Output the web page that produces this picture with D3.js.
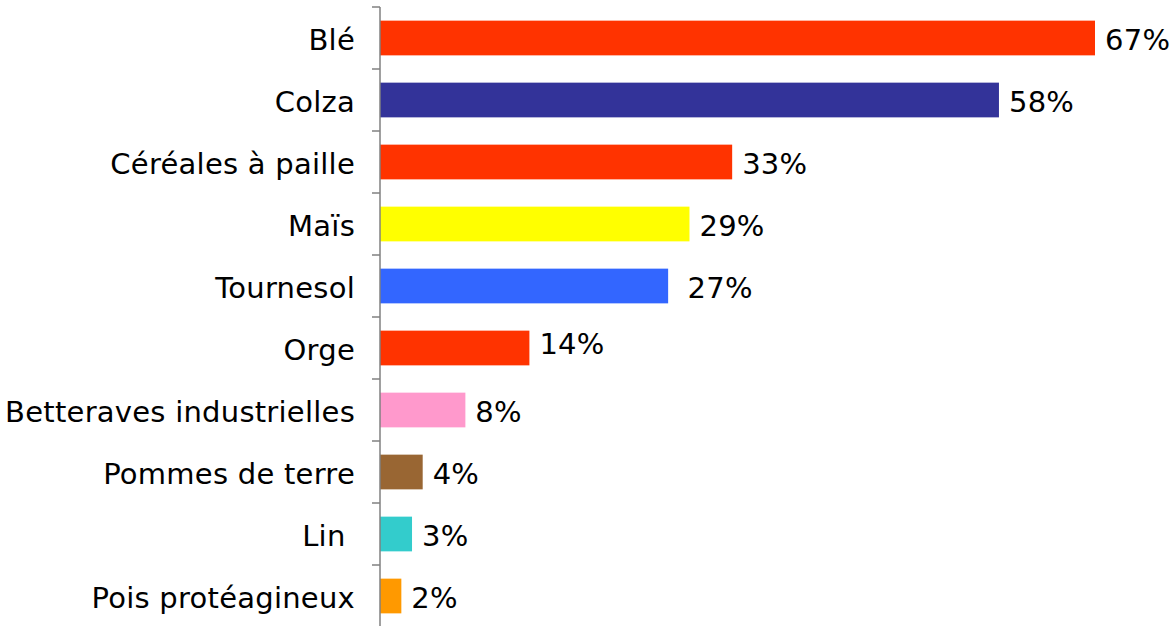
<!DOCTYPE html>
<html>
<head>
    <meta charset="utf-8">
    <title>Cultures</title>
    <script src="https://d3js.org/d3.v7.min.js"></script>
    <style>
        body { margin: 0; background: #fff; }
        text { font-family: "DejaVu Sans", Verdana, sans-serif; white-space: pre; letter-spacing: 0.25px; }
    </style>
</head>
<body>
    <div id="chart"></div>
    <script>

        // data
        var categories = ["Blé", "Colza", "Céréales à paille", "Maïs", "Tournesol", "Orge",
            "Betteraves industrielles", "Pommes de terre", "Lin ", "Pois protéagineux"];
        var values = [67, 58, 33, 29, 27, 14, 8, 4, 3, 2];
        var valueLabels = ["67%", "58%", "33%", "29%", " 27%", "14%", "8%", "4%", "3%", "2%"];
        var colors = ["#FF3300", "#333399", "#FF3300", "#FFFF00", "#3366FF", "#FF3300",
            "#FF99CC", "#996633", "#33CCCC", "#FF9900"];

        var width = 1175, height = 626;
        var axisX = 380, plotTop = 7, plotBottom = 627;

        var svg = d3.select("#chart")
            .append("svg")
            .attr("width", width)
            .attr("height", height);

        var rows = categories.map(function(c, i) {
            return { cat: c, value: values[i], label: valueLabels[i], color: colors[i] };
        });

        var slot = d3.scaleBand()
            .domain(categories)
            .range([plotTop, plotBottom])
            .padding(0);

        var yScale = d3.scaleBand()
            .domain(categories)
            .range([plotTop, plotBottom])
            .paddingInner(0.44)
            .paddingOuter(0.22);

        var xScale = d3.scaleLinear()
            .domain([0, 67])
            .range([axisX, 1095]);

        // bars
        svg.selectAll(".bar")
            .data(rows)
            .enter()
            .append("rect")
            .attr("class", "bar")
            .attr("x", xScale(0))
            .attr("y", function(d) { return yScale(d.cat); })
            .attr("width", function(d) { return xScale(d.value) - xScale(0); })
            .attr("height", yScale.bandwidth())
            .style("fill", function(d) { return d.color; });

        // axis line + ticks between categories
        svg.append("line")
            .attr("x1", axisX).attr("x2", axisX)
            .attr("y1", plotTop).attr("y2", plotBottom)
            .style("stroke", "#808080")
            .style("stroke-width", 1.5);

        var tickYs = categories.map(function(c) { return slot(c); }).concat([plotBottom]);
        svg.selectAll(".tick")
            .data(tickYs)
            .enter()
            .append("line")
            .attr("class", "tick")
            .attr("x1", axisX - 8).attr("x2", axisX)
            .attr("y1", function(d) { return d; })
            .attr("y2", function(d) { return d; })
            .style("stroke", "#808080")
            .style("stroke-width", 1.5);

        // category labels
        svg.selectAll(".cat")
            .data(rows)
            .enter()
            .append("text")
            .attr("class", "cat")
            .attr("x", axisX - 25)
            .attr("y", function(d) { return slot(d.cat) + slot.bandwidth() / 2; })
            .attr("dy", "0.4em")
            .style("text-anchor", "end")
            .style("font-size", "29px")
            .style("fill", "#000")
            .text(function(d) { return d.cat; });

        // value labels
        svg.selectAll(".val")
            .data(rows)
            .enter()
            .append("text")
            .attr("class", "val")
            .attr("x", function(d) { return xScale(d.value) + 10; })
            .attr("y", function(d) {
                var y = slot(d.cat) + slot.bandwidth() / 2;
                return d.cat === "Orge" ? y - 6 : y;
            })
            .attr("dy", "0.4em")
            .style("font-size", "29px")
            .style("fill", "#000")
            .text(function(d) { return d.label; });

    </script>
</body>
</html>
